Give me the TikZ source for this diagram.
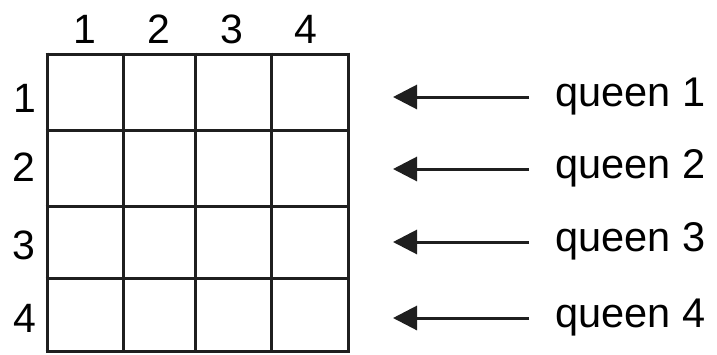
\documentclass[tikz,border=0pt]{standalone}
\usepackage{fontspec}
\setmainfont{Liberation Sans}
\usetikzlibrary{arrows.meta}
\begin{document}
\begin{tikzpicture}[x=1pt,y=-1pt,
  gridline/.style={line width=3pt,color=black!88},
  numlbl/.style={inner sep=0pt,anchor=base,font=\fontsize{41}{41}\selectfont},
  qlbl/.style={inner sep=0pt,anchor=base west,font=\fontsize{41.5}{41.5}\selectfont},
  qarrow/.style={line width=3pt,color=black!88,-{Triangle[length=24pt,width=24pt]}}]
\useasboundingbox (0,0) rectangle (717,354);
% grid
\foreach \yy in {54,130,206,278,351.5}
  \draw[gridline] (45.5,\yy) -- (349.5,\yy);
\foreach \xx in {47,123,195,271,348}
  \draw[gridline] (\xx,52.5) -- (\xx,353);
% column labels
\node[numlbl] (c1) at (85,43) {1};
\node[numlbl] (c2) at (159,43) {2};
\node[numlbl] (c3) at (232,43) {3};
\node[numlbl] (c4) at (306,43) {4};
% row labels
\node[numlbl] (r1) at (25,112) {1};
\node[numlbl] (r2) at (24,181) {2};
\node[numlbl] (r3) at (24,259) {3};
\node[numlbl] (r4) at (25,332) {4};
% queen labels and arrows
\foreach \i/\yy in {1/97,2/169,3/242,4/318}{
  \node[qlbl] (q\i) at (555,\yy+9) {queen \i};
  \coordinate (s\i) at (529,\yy);
  \coordinate (t\i) at (393,\yy);
  \draw[qarrow] (s\i) -- (t\i);
}
\end{tikzpicture}
\end{document}
